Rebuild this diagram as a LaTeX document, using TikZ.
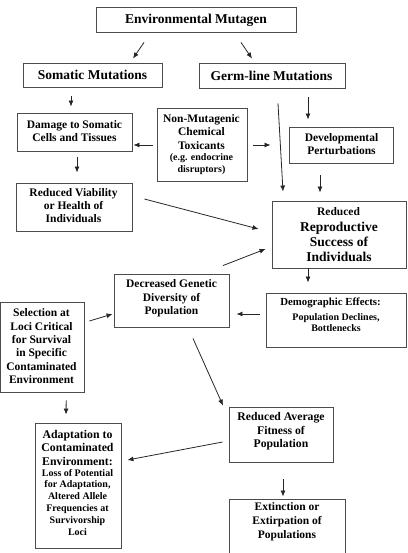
\documentclass[tikz,border=0pt]{standalone}
\usepackage{fontspec}
\setmainfont{Liberation Serif}
\usetikzlibrary{arrows.meta}
\tikzset{
  box/.style={draw=black!70, line width=0.9pt, rectangle, inner sep=0pt},
  arr/.style={draw=black!85, line width=0.8pt, -{Latex[length=6pt,width=5pt]}},
  big/.style={inner sep=0pt, align=center, font=\bfseries\fontsize{13.5}{15}\selectfont},
  mid/.style={inner sep=0pt, align=center, font=\bfseries\fontsize{11.5}{13.4}\selectfont},
  sml/.style={inner sep=0pt, align=center, font=\bfseries\fontsize{10}{11.8}\selectfont},
}
\begin{document}
\begin{tikzpicture}[x=1pt,y=-1pt]
\useasboundingbox (0,0) rectangle (407,553);
% boxes
\node[box, minimum width=200pt, minimum height=25pt] (env) at (196,19.5) {};
\node[box, minimum width=139pt, minimum height=24pt] (som) at (92.5,75) {};
\node[box, minimum width=146pt, minimum height=25pt] (germ) at (272,75.5) {};
\node[box, minimum width=115pt, minimum height=38pt] (dam) at (74.5,132) {};
\node[box, minimum width=90pt, minimum height=73pt] (nonmut) at (202,144.5) {};
\node[box, minimum width=104pt, minimum height=36pt] (dev) at (341,145) {};
\node[box, minimum width=116pt, minimum height=48pt] (via) at (74,207) {};
\node[box, minimum width=134pt, minimum height=67pt] (rep) at (339,234.5) {};
\node[box, minimum width=115pt, minimum height=53pt] (dec) at (171.5,300.5) {};
\node[box, minimum width=140pt, minimum height=54pt] (demo) at (336,320) {};
\node[box, minimum width=83.5pt, minimum height=90pt] (sel) at (42.2,347) {};
\node[box, minimum width=86pt, minimum height=125pt] (adp) at (78,485.5) {};
\node[box, minimum width=104pt, minimum height=55pt] (avg) at (281,434.5) {};
\node[box, minimum width=116pt, minimum height=61pt] (ext) at (287,529.5) {};
% texts
\node[big] (t-env) at (196,20) {Environmental Mutagen};
\node[big] (t-som) at (92.5,75) {Somatic Mutations};
\node[big] (t-germ) at (271.5,75.5) {Germ-line Mutations};
\node[mid, font=\bfseries\fontsize{11.5}{12.5}\selectfont] (t-dam) at (74.5,131) {Damage to Somatic\\Cells and Tissues};
\node[mid] (t-nonmut) at (201.5,132) {Non-Mutagenic\\Chemical\\Toxicants};
\node[sml] (t-nonmut2) at (201.5,164) {(e.g. endocrine\\disruptors)};
\node[mid, font=\bfseries\fontsize{11.5}{13.8}\selectfont] (t-dev) at (341.5,144) {Developmental\\Perturbations};
\node[mid, font=\bfseries\fontsize{11.5}{13}\selectfont] (t-via) at (73.5,206) {Reduced Viability\\or Health of\\Individuals};
\node[mid] (t-rep1) at (338.5,212) {Reduced};
\node[big] (t-rep2) at (339,242) {Reproductive\\Success of\\Individuals};
\node[mid] (t-dec) at (171.5,298.5) {Decreased Genetic\\Diversity of\\Population};
\node[inner sep=0pt, font=\bfseries\fontsize{10.8}{12}\selectfont] (t-demo1) at (330.5,303) {Demographic Effects:};
\node[sml, font=\bfseries\fontsize{10}{11.3}\selectfont] (t-demo2) at (336,322.5) {Population Declines,\\Bottlenecks};
\node[mid] (t-sel) at (41.5,346.3) {Selection at\\Loci Critical\\for Survival\\in Specific\\Contaminated\\Environment};
\node[mid, font=\bfseries\fontsize{11.8}{13.5}\selectfont] (t-adp1) at (77.5,447.5) {Adaptation to\\Contaminated\\Environment:};
\node[sml] (t-adp2) at (77.5,502.2) {Loss of Potential\\for Adaptation,\\Altered Allele\\Frequencies at\\Survivorship\\Loci};
\node[mid, font=\bfseries\fontsize{11.7}{13.5}\selectfont] (t-avg) at (281,431.5) {Reduced Average\\Fitness of\\Population};
\node[mid, font=\bfseries\fontsize{11.5}{14}\selectfont] (t-ext) at (287,522) {Extinction or\\Extirpation of\\Populations};
% connectors
\draw[arr] ([shift={(-52,10)}]env.south) -- ([shift={(40.5,-4)}]som.north);
\draw[arr] ([shift={(45,10)}]env.south) -- ([shift={(-20,-4)}]germ.north);
\draw[arr] ([shift={(-21.5,9)}]som.south) -- ([shift={(-3.5,-6)}]dam.north);
\draw[arr] ([shift={(36,9)}]germ.south) -- ([shift={(-33,-7)}]dev.north);
\draw[arr] ([shift={(6,15)}]germ.south) -- ([shift={(-56,-9)}]rep.north);
\draw[arr] ([shift={(-4,0.5)}]nonmut.west) -- ([shift={(1,13)}]dam.east);
\draw[arr] ([shift={(6,0.5)}]nonmut.east) -- ([shift={(-18,0)}]dev.west);
\draw[arr] ([shift={(2.5,6)}]dam.south) -- ([shift={(3,-10)}]via.north);
\draw[arr] ([shift={(-21,12)}]dev.south) -- ([shift={(-19,-8)}]rep.north);
\draw[arr] ([shift={(12,-8)}]via.east) -- ([shift={(-13,-5.5)}]rep.west);
\draw[arr] ([shift={(51.5,-8)}]dec.north) -- ([shift={(-6,14.5)}]rep.west);
\draw[arr] ([shift={(-31,0)}]rep.south) -- ([shift={(-28,-10)}]demo.north);
\draw[arr] ([shift={(-6,-6)}]demo.west) -- ([shift={(7,13.5)}]dec.east);
\draw[arr] ([shift={(5,-26)}]sel.east) -- ([shift={(-1,13.5)}]dec.west);
\draw[arr] ([shift={(21.5,11)}]dec.south) -- ([shift={(-58,-1)}]avg.north);
\draw[arr] ([shift={(24,8)}]sel.south) -- ([shift={(-12,-8)}]adp.north);
\draw[arr] ([shift={(-6,7.5)}]avg.west) -- ([shift={(6,-25.5)}]adp.east);
\draw[arr] ([shift={(2,17)}]avg.south) -- ([shift={(-4,-2)}]ext.north);
\end{tikzpicture}
\end{document}
